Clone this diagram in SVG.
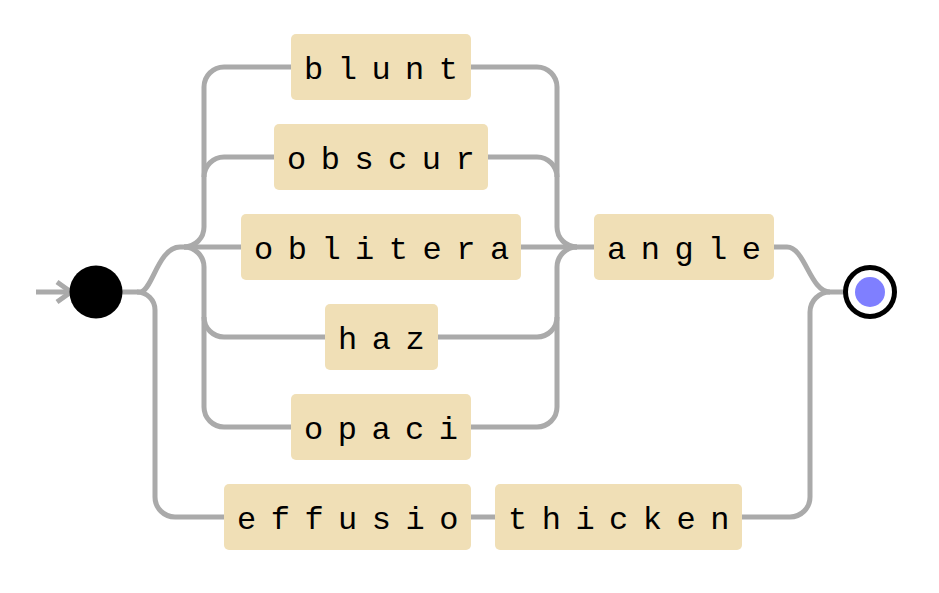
<svg xmlns="http://www.w3.org/2000/svg" width="939" height="593" viewBox="0 0 939 593">
<style>
.box{fill:#f0dfb6;}
.lbl{font-family:"Liberation Mono","Courier New",monospace;font-size:32px;letter-spacing:14.5px;fill:#000;}
.wire{fill:none;stroke:#aaaaaa;stroke-width:5;stroke-linecap:butt;stroke-linejoin:round;}
</style>
<rect width="939" height="593" fill="#fff"/>
<g id="connectors" class="wire">
<path d="M36 292 H70"/>
<polyline points="57,282 71,292 57,302"/>
<path d="M122 292 H140 C152 292 158 247 180 247 H241"/>
<path d="M137 292 A18 18 0 0 1 155 310 V497 A20 20 0 0 0 175 517 H224"/>
<path d="M184 247 A20 20 0 0 0 204 227 V87 A20 20 0 0 1 224 67 H291"/>
<path d="M204 177 A20 20 0 0 1 224 157 H274"/>
<path d="M184 247 A20 20 0 0 1 204 267 V407 A20 20 0 0 0 224 427 H291"/>
<path d="M204 317 A20 20 0 0 0 224 337 H325"/>
<path d="M471 67 H537 A20 20 0 0 1 557 87 V227 A20 20 0 0 0 577 247"/>
<path d="M488 157 H537 A20 20 0 0 1 557 177"/>
<path d="M521 247 H594"/>
<path d="M438 337 H537 A20 20 0 0 0 557 317"/>
<path d="M471 427 H537 A20 20 0 0 0 557 407 V267 A20 20 0 0 1 577 247"/>
<path d="M471 517 H495"/>
<path d="M774 247 H787 C805 247 810 292 830 292 H846"/>
<path d="M742 517 H790 A20 20 0 0 0 810 497 V312 A20 20 0 0 1 830 292"/>
</g>
<g id="start"><circle cx="96" cy="292" r="26.5" fill="#000"/></g>
<g id="end"><circle cx="870" cy="292" r="24.5" fill="#fff" stroke="#000" stroke-width="5"/><circle cx="870" cy="292" r="15" fill="#7f7fff"/></g>
<g id="n-blunt"><rect class="box" x="291" y="34" width="180" height="66" rx="5"/><text class="lbl" x="304" y="79">blunt</text></g>
<g id="n-obscur"><rect class="box" x="274" y="124" width="214" height="66" rx="5"/><text class="lbl" x="287" y="169">obscur</text></g>
<g id="n-oblitera"><rect class="box" x="241" y="214" width="280" height="66" rx="5"/><text class="lbl" x="254" y="259">oblitera</text></g>
<g id="n-haz"><rect class="box" x="325" y="304" width="113" height="66" rx="5"/><text class="lbl" x="338" y="349">haz</text></g>
<g id="n-opaci"><rect class="box" x="291" y="394" width="180" height="66" rx="5"/><text class="lbl" x="304" y="439">opaci</text></g>
<g id="n-angle"><rect class="box" x="594" y="214" width="180" height="66" rx="5"/><text class="lbl" x="607" y="259">angle</text></g>
<g id="n-effusio"><rect class="box" x="224" y="484" width="247" height="66" rx="5"/><text class="lbl" x="237" y="529">effusio</text></g>
<g id="n-thicken"><rect class="box" x="495" y="484" width="247" height="66" rx="5"/><text class="lbl" x="508" y="529">thicken</text></g>
</svg>
